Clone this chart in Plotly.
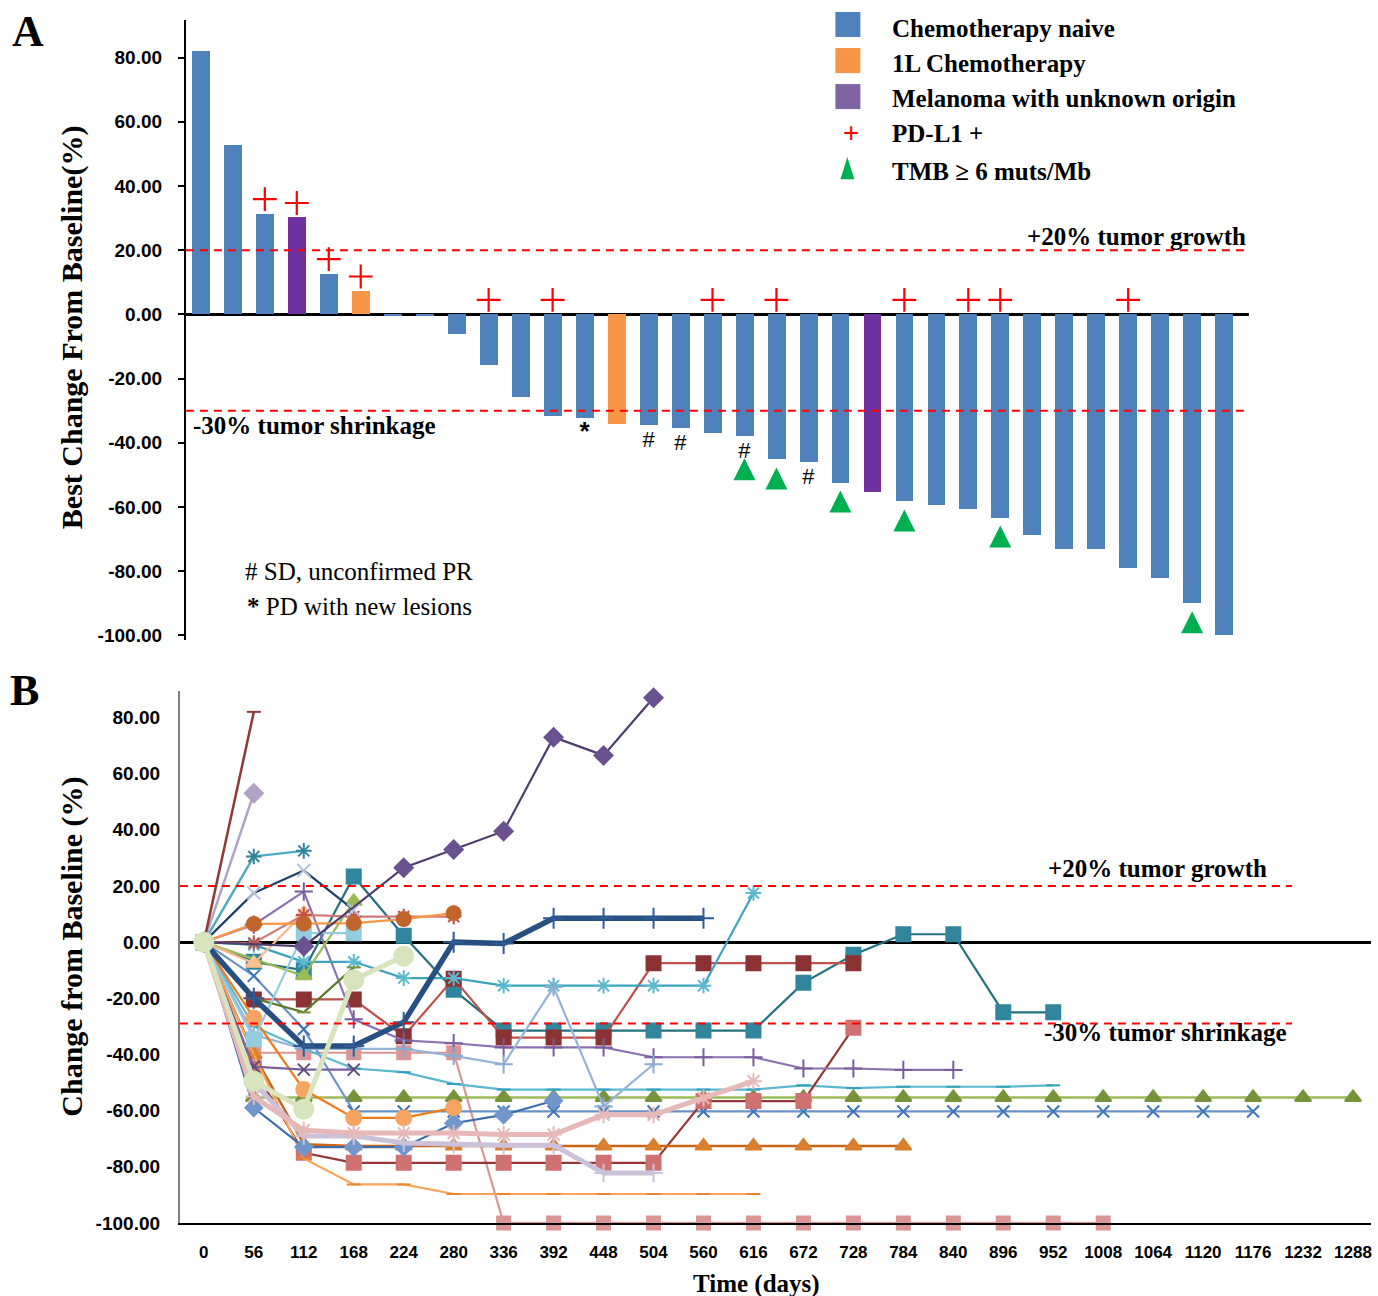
import plotly.graph_objects as go

W, H = 1378, 1296
FIG_H = 1308  # page viewport height observed for this renderer; positions below use 1296-based fractions

# ---------------- Panel A data ----------------
patients = list(range(1, 34))
best_change = [82.0, 52.8, 31.4, 30.2, 12.7, 7.3, -0.5, -0.5, -6.2, -15.9, -25.8,
               -31.7, -32.2, -34.1, -34.4, -35.3, -37.1, -37.8, -45.2, -45.9, -52.4,
               -55.2, -58.3, -59.4, -60.7, -63.3, -68.6, -73.0, -73.0, -79.0, -82.0,
               -90.0, -100.0]
# N = chemotherapy naive, C = 1L chemotherapy, M = melanoma with unknown origin
cohort = ["N", "N", "N", "M", "N", "C", "N", "N", "N", "N", "N", "N", "N", "C", "N", "N", "N",
          "N", "N", "N", "N", "M", "N", "N", "N", "N", "N", "N", "N", "N", "N", "N", "N"]
pdl1_positive = [3, 4, 5, 6, 10, 12, 17, 19, 23, 25, 26, 30]
tmb_high = [18, 19, 21, 23, 26, 32]
sd_unconfirmed_pr = [15, 16, 18, 20]
pd_new_lesions = [13]

cohort_names = {"N": "Chemotherapy naive", "C": "1L Chemotherapy", "M": "Melanoma with unknown origin"}

# ---------------- Panel B data ----------------
DAYS = [0, 56, 112, 168, 224, 280, 336, 392, 448, 504, 560, 616, 672, 728, 784, 840,
        896, 952, 1008, 1064, 1120, 1176, 1232, 1288]

pt_maroon = [0, 82]
pt_lilac = [0, 53]
pt_teal_star = [0, 30.5, 32.5]
pt_sage_dash = [0, 30.5]
pt_navy_x = [0, 17.5, 25.5, 11.5]
pt_violet_diam = [0, None, -1.5, None, 26.5, 33, 39.5, 73, 66.5, 87]
pt_purple_plus = [0, 6.2, 18, -27.5, -35, -36, -37.5, -37.5, -37.5, -41, -41, -41, -45, -45, -45.5, -45.5]
pt_brown_circ = [0, 6.5, 6.6, 6.8, 8.2, 10.3]
pt_red_star = [0, -0.3, 9.7, 9.1, 9.1, 9.1]
pt_peach_tri = [0, -7.5, 10.3]
pt_sky_sq = [0, -34.6, 3.2, 3.2]
pt_teal_sq = [0, -7, -10, 23.4, 2.3, -17, -31.5, -31.5, -31.5, -31.5, -31.5, -31.5, -14.5, -4.5, 2.8, 2.8, -25, -25]
pt_green_tri = [0, None, -12, 14.5]
pt_olive_dash = [0, -20, -25, -9]
pt_cyan_star = [0, -1, -7, -7, -12.8, -12.8, -15.5, -15.5, -15.5, -15.5, -15.5, 17.5]
pt_navy_thick = [0, -20, -37, -37, -28.5, 0, -0.5, 8.5, 8.5, 8.5, 8.5]
pt_darkred_sq = [0, -20.4, -20.4, -20.4, -33.5, -13, -34, -34, -34, -7.5, -7.5, -7.5, -7.5, -7.5]
pt_pink_sq = [0, -39.4, -39.4, -39.4, -39.4, -39.4, -100, -100, -100, -100, -100, -100, -100,
              -100, -100, -100, -100, -100, -100]
pt_purple_x = [0, -44.3, -45.4, -45.4]
pt_cyan_dash = [0, -30, -38, -45, -46.3, -50.5, -52.5, -52.5, -52.5, -52.5, -52.5, -52.5, -51,
                -52, -51.5, -51.5, -51.5, -51]
pt_steel_plus = [0, -33, -38, -38, -38, -40.5, -43.5, -16, -58.5, -43.5]
pt_sage_circ = [0, -49.5, -59.5, -13.4, -5]
pt_orange_circ = [0, -27, -52.5, -62.6, -62.6, -59]
pt_olive_tri = [0, -55.3, -55.3, -55.3, -55.3, -55.3, -55.3, -55.3, -55.3, -55.3, -55.3, -55.3,
                -55.3, -55.3, -55.3, -55.3, -55.3, -55.3, -55.3, -55.3, -55.3, -55.3, -55.3, -55.3]
pt_blue_x = [0, -12, -31, -60.3, -60.3, -60.3, -60.3, -60.3, -60.3, -60.3, -60.3, -60.3, -60.3,
             -60.3, -60.3, -60.3, -60.3, -60.3, -60.3, -60.3, -60.3, -60.3]
pt_blue_diam = [0, -59, -73, -73, -73, -64.5, -61.5, -56.5]
pt_rose_sq = [0, -45, -75, -78.6, -78.6, -78.6, -78.6, -78.6, -78.6, -78.6, -56.6, -56.6, -56.6, -30.5]
pt_orange_tri = [0, -40, -72, -72.6, -72.6, -72.6, -72.6, -72.6, -72.6, -72.6, -72.6, -72.6,
                 -72.6, -72.6, -72.6]
pt_orange_dash = [0, -40, -77, -86.3, -86.3, -89.7, -89.7, -89.7, -89.7, -89.7, -89.7, -89.7]
pt_lavender_thick = [0, -50, -69, -69, -71.5, -72, -72.3, -72.3, -82.2, -82.2]
pt_pink_thick = [0, -55, -67, -68, -68, -68, -68.5, -68.5, -61.5, -61.5, -55.5, -49.5]

# ---------------- helpers ----------------
def px(x):
    return x / W


def py(y):
    return 1 - y / H


SERIF = "Liberation Serif, Times New Roman, serif"
SANS = "Liberation Sans, Arial, sans-serif"

BAR_COLORS = {"N": "#4F81BD", "C": "#F79646", "M": "#7030A0"}

fig = go.Figure()

# ---------------- Panel A ----------------
fig.add_trace(go.Bar(
    x=patients, y=best_change,
    marker=dict(color=[BAR_COLORS[c] for c in cohort], line=dict(width=0)),
    width=0.56, xaxis="x", yaxis="y", hoverinfo="y",
))

val = dict(zip(patients, best_change))
fig.add_trace(go.Scatter(
    x=pdl1_positive, y=[max(val[p], 0) + 4.5 for p in pdl1_positive],
    mode="markers", xaxis="x", yaxis="y", cliponaxis=False,
    marker=dict(symbol="cross-thin", size=17, color="#FF0000",
                line=dict(color="#FF0000", width=2.2)),
))
fig.add_trace(go.Scatter(
    x=tmb_high,
    y=[val[p] - 2.5 - (4.5 if p in sd_unconfirmed_pr else 0) for p in tmb_high],
    mode="markers", xaxis="x", yaxis="y", cliponaxis=False,
    marker=dict(symbol="arrow-up", size=22, color="#00B050", line=dict(width=0)),
))
fig.add_trace(go.Scatter(
    x=sd_unconfirmed_pr, y=[val[p] - 5.3 for p in sd_unconfirmed_pr],
    mode="text", text=["#"] * len(sd_unconfirmed_pr), xaxis="x", yaxis="y", cliponaxis=False,
    textfont=dict(family=SANS, size=22, color="black"),
))
fig.add_trace(go.Scatter(
    x=pd_new_lesions, y=[val[p] - 5.0 for p in pd_new_lesions],
    mode="text", text=["<b>*</b>"] * len(pd_new_lesions), xaxis="x", yaxis="y", cliponaxis=False,
    textfont=dict(family=SANS, size=26, color="black"),
))

# ---------------- Panel B ----------------
series = [
    # (values, line color, line width, marker symbol, marker color, marker size)
    (pt_pink_sq, "#D99694", 2.2, "square", "#D99694", 13),
    (pt_olive_tri, "#9BBB59", 2.5, "triangle-up", "#77933C", 14),
    (pt_blue_x, "#6A93C8", 2.2, "x-thin", "#3F74B8", 12),
    (pt_cyan_dash, "#5BB8CF", 2.2, "line-ew", "#31A0BE", 10),
    (pt_teal_sq, "#23707E", 2.2, "square", "#31859C", 14),
    (pt_darkred_sq, "#C0504D", 2.2, "square", "#8B3232", 14),
    (pt_rose_sq, "#953735", 2.2, "square", "#CF7170", 14),
    (pt_orange_tri, "#C8651A", 2.5, "triangle-up", "#D8802F", 14),
    (pt_orange_dash, "#F8A55A", 2.2, "line-ew", "#E8862E", 10),
    (pt_purple_plus, "#8C72B0", 2.2, "cross-thin", "#7A5C9E", 13),
    (pt_cyan_star, "#3FA3BD", 2.2, "asterisk", "#5BB8CF", 13),
    (pt_steel_plus, "#95B3D7", 2.2, "cross-thin", "#8AAAD2", 13),
    (pt_blue_diam, "#3F6DAA", 2.2, "diamond", "#7096CC", 13),
    (pt_orange_circ, "#F07C1A", 2.2, "circle", "#F5A462", 15),
    (pt_purple_x, "#7A62A0", 2.2, "x-thin", "#604A7B", 12),
    (pt_olive_dash, "#5B7A2A", 2.2, "line-ew", "#77933C", 10),
    (pt_green_tri, "#9BBB59", 2.2, "triangle-up", "#9BBB59", 14),
    (pt_sky_sq, "#93CDDD", 2.2, "square", "#93CDDD", 14),
    (pt_peach_tri, "#F8B88B", 2.2, "triangle-up", "#FAC090", 14),
    (pt_red_star, "#D27B78", 2.2, "asterisk", "#C0504D", 13),
    (pt_brown_circ, "#F79646", 2.2, "circle", "#C0652B", 14),
    (pt_navy_x, "#1F3F66", 2.2, "x-thin", "#B8C4DE", 13),
    (pt_sage_dash, "#C3D69B", 2.5, "line-ew", "#C3D69B", 10),
    (pt_teal_star, "#4BACC6", 2.2, "asterisk", "#31859C", 13),
    (pt_lilac, "#B3A2C7", 2.5, "diamond", "#B3A2C7", 14),
    (pt_maroon, "#8E3A36", 2.5, "line-ew", "#8E3A36", 10),
    (pt_violet_diam, "#4F3D6B", 2.2, "diamond", "#6A5190", 14),
    (pt_lavender_thick, "#CCC1DA", 5, "cross-thin", "#CCC1DA", 13),
    (pt_pink_thick, "#E6B9B8", 5, "asterisk", "#E6B9B8", 14),
    (pt_navy_thick, "#274F7F", 5.5, "cross-thin", "#2F5C96", 15),
    (pt_sage_circ, "#D7E4BD", 5, "circle", "#D7E4BD", 19),
]

for vals, lc, lw, sym, mc, ms in series:
    fig.add_trace(go.Scatter(
        x=DAYS[:len(vals)], y=vals, mode="lines+markers", connectgaps=True,
        xaxis="x2", yaxis="y2", cliponaxis=False,
        line=dict(color=lc, width=lw),
        marker=dict(symbol=sym, size=ms, color=mc, line=dict(color=mc, width=2)),
    ))

# ---------------- shapes ----------------
shapes = []
for yv in (20, -30):
    shapes.append(dict(type="line", xref="x domain", yref="y", x0=0, x1=1, y0=yv, y1=yv,
                       line=dict(color="#FF0000", width=2, dash="8px,6px")))
for yv in (20, -29):
    shapes.append(dict(type="line", xref="x2 domain", yref="y2", x0=0, x1=(1293 - 180) / (1372 - 180),
                       y0=yv, y1=yv, line=dict(color="#FF0000", width=2, dash="8px,6px")))

legend_sq = [("#4F81BD", 12), ("#F79646", 48), ("#8064A2", 84)]
for col, top in legend_sq:
    shapes.append(dict(type="rect", xref="paper", yref="paper", x0=px(836), x1=px(861),
                       y0=py(top + 25), y1=py(top), fillcolor=col, line=dict(width=0)))
shapes.append(dict(type="path", xref="paper", yref="paper",
                   path=f"M {px(848)},{py(157)} L {px(841)},{py(179)} L {px(855)},{py(179)} Z",
                   fillcolor="#00B050", line=dict(width=0)))

# ---------------- annotations ----------------
ann = []


def text(x, y, s, size, family=SERIF, bold=True, xanchor="center", yanchor="middle", angle=0, color="black"):
    ann.append(dict(x=px(x), y=py(y), xref="paper", yref="paper", text=s, showarrow=False,
                    xanchor=xanchor, yanchor=yanchor, textangle=angle,
                    font=dict(family=family, size=size, color=color,
                              weight="bold" if bold else "normal")))


text(28, 31, "A", 44)
text(25, 690, "B", 44)
text(72, 327, "Best Change From Baseline(%)", 30, angle=-90)
text(72, 946, "Change from Baseline (%)", 30, angle=-90)
text(757, 1283, "Time (days)", 25)
text(1249, 236, "+20% tumor growth", 25, xanchor="right")
text(191, 425, "-30% tumor shrinkage", 25, xanchor="left")
text(243, 571, "# SD, unconfirmed PR", 25, bold=False, xanchor="left")
text(245, 606, "<b>*</b> PD with new lesions", 25, bold=False, xanchor="left")
text(1270, 868, "+20% tumor growth", 25, xanchor="right")
text(1290, 1032, "-30% tumor shrinkage", 25, xanchor="right")

legend_rows = [(cohort_names["N"], 28), (cohort_names["C"], 63), (cohort_names["M"], 98),
               ("PD-L1 +", 133), ("TMB \u2265 6 muts/Mb", 171)]
for label, yc in legend_rows:
    text(891, yc, label, 25, xanchor="left")
text(852, 132, "+", 28, family=SANS, bold=False, color="#FF0000")

# ---------------- layout ----------------
yA_ticks = [-100, -80, -60, -40, -20, 0, 20, 40, 60, 80]
xA_lo = 1 - (201 - 186) / 32
xA_hi = 1 + (1250 - 201) / 32
xB_lo = (180 - 204) / 50 * 56
xB_hi = (1372 - 204) / 50 * 56

fig.update_layout(
    width=W, height=FIG_H, margin=dict(l=0, r=0, t=0, b=0),
    paper_bgcolor="white", plot_bgcolor="white", showlegend=False,
    bargap=0,
    xaxis=dict(domain=[px(186), px(1250)], range=[xA_lo, xA_hi], anchor="y",
               showticklabels=False, showgrid=False, zeroline=False, showline=False, ticks=""),
    yaxis=dict(domain=[py(640), py(20)], range=[-101.6, 91.7], anchor="x",
               tickvals=yA_ticks, ticktext=[f"{v:.2f}" for v in yA_ticks],
               showgrid=False, zeroline=True, zerolinecolor="black", zerolinewidth=3,
               showline=True, linecolor="black", linewidth=2,
               ticks="outside", ticklen=6, tickwidth=2, tickcolor="black",
               ticklabelstandoff=12,
               tickfont=dict(family=SANS, size=19, color="black", weight="bold")),
    xaxis2=dict(domain=[px(180), px(1372)], range=[xB_lo, xB_hi], anchor="y2",
                tickvals=DAYS, ticktext=[str(d) for d in DAYS],
                showgrid=False, zeroline=False, showline=True, linecolor="black", linewidth=2,
                ticks="", ticklabelstandoff=13,
                tickfont=dict(family=SANS, size=17, color="black", weight="bold")),
    yaxis2=dict(domain=[py(1222), py(690)], range=[-100, 89.6], anchor="x2",
                tickvals=yA_ticks, ticktext=[f"{v:.2f}" for v in yA_ticks],
                showgrid=False, zeroline=True, zerolinecolor="black", zerolinewidth=2.5,
                showline=True, linecolor="#7F7F7F", linewidth=2,
                ticks="", ticklabelstandoff=14,
                tickfont=dict(family=SANS, size=19, color="black", weight="bold")),
    shapes=shapes, annotations=ann,
)

PAGE_JS = ("document.documentElement.style.margin='0';document.body.style.margin='0';"
           "document.documentElement.style.overflow='hidden';document.body.style.overflow='hidden';"
           "var gd=document.getElementById('{plot_id}');gd.style.position='fixed';"
           "gd.style.left='0px';gd.style.top='0px';")
fig.write_html("out.html", config={"displayModeBar": False}, post_script=PAGE_JS)
